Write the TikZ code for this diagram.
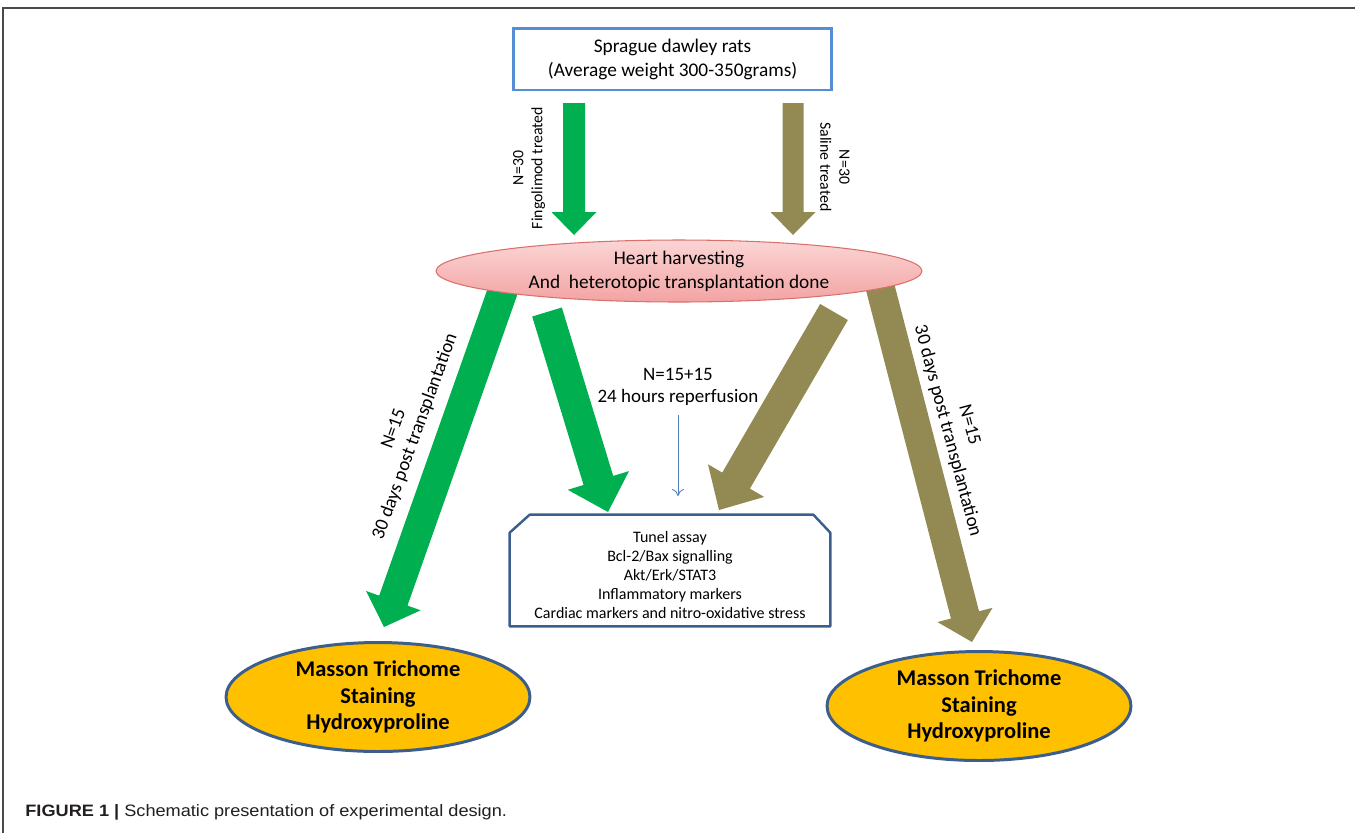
\documentclass[tikz,border=0pt]{standalone}
\usepackage{fontspec}
\setmainfont{Carlito}
\newfontfamily\capfont[FakeStretch=1.1]{Liberation Sans}
\usetikzlibrary{calc,shapes.geometric,backgrounds,arrows.meta}
\definecolor{fgreen}{HTML}{00B050}
\definecolor{folive}{HTML}{938953}
\definecolor{boxblue}{HTML}{558ED5}
\definecolor{darkblue}{HTML}{3B5E8C}
\definecolor{pinktop}{HTML}{FBD5D5}
\definecolor{pinkbot}{HTML}{F3A3A3}
\definecolor{pinkline}{HTML}{D9706B}
\definecolor{gold}{HTML}{FFC000}
\definecolor{thinblue}{HTML}{4F81BD}
\definecolor{framegray}{HTML}{4A4A4A}
\definecolor{captext}{HTML}{231F20}
% #1 colour, #2 start, #3 tip, #4 half shaft, #5 half head, #6 head length
\newcommand\fatarrow[6]{%
  \coordinate (fab) at ($(#3)!#6!(#2)$);
  \fill[#1] ($(#2)!#4!90:(#3)$) -- ($(fab)!#4!90:(#3)$) -- ($(fab)!#5!90:(#3)$) -- (#3)
    -- ($(fab)!#5!-90:(#3)$) -- ($(fab)!#4!-90:(#3)$) -- ($(#2)!#4!-90:(#3)$) -- cycle;}
\begin{document}
\begin{tikzpicture}[x=0.02cm,y=-0.02cm,
  topbox/.style={draw=boxblue,line width=1.7pt,minimum width=6.38cm,minimum height=1.24cm,inner sep=0pt,align=center,font=\fontsize{11}{13.6}\selectfont},
  harvest/.style={ellipse,draw=pinkline,line width=0.6pt,top color=pinktop,bottom color=pinkbot,minimum width=9.72cm,minimum height=1.24cm,inner sep=0pt,align=center,font=\fontsize{11}{13.6}\selectfont},
  stain/.style={ellipse,draw=darkblue,line width=1.7pt,fill=gold,minimum width=6.08cm,minimum height=2.18cm,inner sep=0pt,align=center,font=\fontsize{12.8}{15}\selectfont\bfseries},
  assaybox/.style={minimum width=6.4cm,minimum height=2.22cm,inner sep=0pt},
  assayline/.style={draw=darkblue,line width=1.4pt,line join=round},
  assaytext/.style={align=center,font=\fontsize{9.1}{10.8}\selectfont,inner sep=0pt},
  sidelabel/.style={align=center,font=\fontsize{9}{10.8}\selectfont,inner sep=0pt},
  longlabel/.style={align=center,font=\fontsize{10.8}{12.8}\selectfont,inner sep=0pt},
  thinarrow/.style={draw=thinblue,line width=0.5pt,-{To[length=4pt,width=7pt]}},
  framestyle/.style={draw=framegray,line width=1pt}
]
\useasboundingbox (0,0) rectangle (1355,833);

% nodes
\node[topbox] (rats) at (672.5,59) {Sprague dawley rats\\(Average weight 300-350grams)};
\node[harvest] (harv) at (679,271) {Heart harvesting\\And\ \ heterotopic transplantation done};
\node[assaybox] (assay) at (670,570.5) {};
\draw[assayline] ($(assay.south west)$) -- ($(assay.north west)+(0,18)$) -- ($(assay.north west)+(20,0)$)
  -- ($(assay.north east)+(-17,0)$) -- ($(assay.north east)+(0,18)$) -- (assay.south east) -- cycle;
\node[assaytext] (assaytxt) at (670,575) {Tunel assay\\Bcl-2/Bax signalling\\Akt/Erk/STAT3\\Inflammatory markers\\Cardiac markers and nitro-oxidative stress};
\node[stain] (stainL) at (378,697) {Masson Trichome\\Staining\\Hydroxyproline};
\node[stain] (stainR) at (979,706) {Masson Trichome\\Staining\\Hydroxyproline};

% labels
\node[sidelabel,rotate=90] (lblF) at (529,168) {N=30\\Fingolimod treated};
\node[sidelabel,rotate=-90] (lblS) at (835,167) {N=30\\Saline treated};
\node[longlabel,rotate=70] (lblL) at (405,433) {N=15\\30 days post transplantation};
\node[longlabel,rotate=-75] (lblR) at (958,428) {N=15\\30 days post transplantation};
\node[align=center,font=\fontsize{10.8}{12.8}\selectfont,inner sep=0pt] (reperf) at (678,387) {N=15+15\\24 hours reperfusion};

% coordinates for arrow ends
\coordinate (gTopS) at (574,103);
\coordinate (gTopE) at (574,235);
\coordinate (oTopS) at (793,103);
\coordinate (oTopE) at (793,235);
\coordinate (gLongS) at (508,276);
\coordinate (gLongE) at (384,627);
\coordinate (gShortS) at (547,312);
\coordinate (gShortE) at (608,512);
\coordinate (oShortS) at (834,312);
\coordinate (oShortE) at (719,510);
\coordinate (oLongS) at (877,275);
\coordinate (oLongE) at (972,642);
\coordinate (thinS) at (678,415);
\coordinate (thinE) at (678,496);

\begin{scope}[on background layer]
  \fill[white] (0,0) rectangle (1355,833);
  \fatarrow{fgreen}{gTopS}{gTopE}{0.22cm}{0.45cm}{0.46cm}
  \fatarrow{folive}{oTopS}{oTopE}{0.21cm}{0.45cm}{0.46cm}
  \fatarrow{fgreen}{gLongS}{gLongE}{0.30cm}{0.58cm}{0.56cm}
  \fatarrow{folive}{oLongS}{oLongE}{0.29cm}{0.57cm}{0.56cm}
  \fatarrow{fgreen}{gShortS}{gShortE}{0.31cm}{0.64cm}{0.66cm}
  \fatarrow{folive}{oShortS}{oShortE}{0.32cm}{0.65cm}{0.68cm}
\end{scope}
\draw[thinarrow] (thinS) -- (thinE);

% frame
\coordinate (frTL) at (3,8);
\coordinate (frTR) at (1355,8);
\coordinate (frBL) at (3,833);
\draw[framestyle] (frTR) -- (frTL) -- (frBL);

% caption
\node[anchor=west,inner sep=0pt,text=captext,font=\capfont\fontsize{9.4}{11}\selectfont] (caption) at (25,812) {\textbf{FIGURE 1 |} Schematic presentation of experimental design.};
\end{tikzpicture}
\end{document}
